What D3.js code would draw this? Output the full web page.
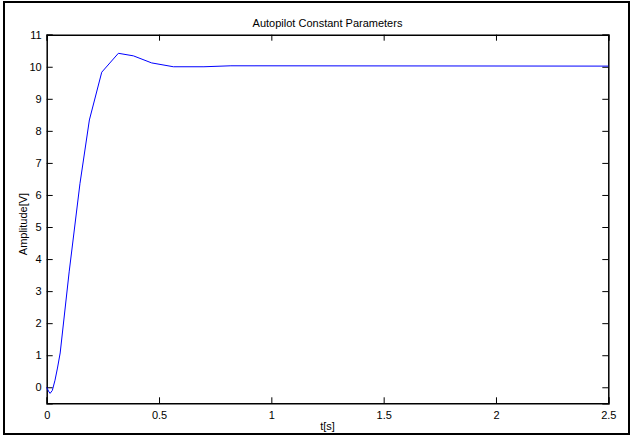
<!DOCTYPE html>
<html>
<head>
<meta charset="utf-8">
<script src="https://cdn.jsdelivr.net/npm/d3@7"></script>
<style>
  body { margin: 0; background: #fff; }
  svg { display: block; font-family: "Liberation Sans", Arial, sans-serif; }
</style>
</head>
<body>
<svg width="634" height="436"></svg>
<script>
// step response
var tVals = [0, 0.008, 0.015, 0.025, 0.037, 0.048, 0.06, 0.10, 0.148, 0.19, 0.245, 0.319, 0.386, 0.467, 0.564, 0.70, 0.82, 2.5];
var yVals = [0, -0.12, -0.19, -0.1, 0.22, 0.6, 1.07, 3.6, 6.35, 8.34, 9.83, 10.42, 10.34, 10.12, 10.0, 10.0, 10.03, 10.02];
var xTicks = [0, 0.5, 1, 1.5, 2, 2.5];
var yTicks = [0, 1, 2, 3, 4, 5, 6, 7, 8, 9, 10, 11];

var svg = d3.select("svg");
var L = 46.7, R = 608.3, T = 34.7, B = 403.3;

var x = d3.scaleLinear().domain([0, 2.5]).range([L, R]);
var y = d3.scaleLinear().domain([-0.5, 11]).range([B, T]);

// outer frame
svg.append("rect")
    .attr("x", 4).attr("y", 2).attr("width", 625).attr("height", 432)
    .attr("fill", "none").attr("stroke", "#000").attr("stroke-width", 2);

// axes, ticks inward like matlab
svg.append("g").attr("transform", "translate(0," + B + ")")
    .call(d3.axisBottom(x).tickValues(xTicks).tickSize(-6).tickPadding(8)
          .tickFormat(function(d){ return d3.format("")(d); }));
svg.append("g").attr("transform", "translate(0," + T + ")")
    .call(d3.axisTop(x).tickValues(xTicks).tickSize(-6).tickFormat(""));
svg.append("g").attr("transform", "translate(" + L + ",0)")
    .call(d3.axisLeft(y).tickValues(yTicks).tickSize(-6).tickPadding(5));
svg.append("g").attr("transform", "translate(" + R + ",0)")
    .call(d3.axisRight(y).tickValues(yTicks).tickSize(-6).tickFormat(""));

svg.selectAll(".domain").attr("stroke", "#000").attr("stroke-width", 1.5);
svg.selectAll(".tick line").attr("stroke", "#000");
svg.selectAll(".tick text").attr("font-size", 11).attr("fill", "#000")
    .attr("font-family", "Liberation Sans, Arial, sans-serif");

// response curve
var pts = tVals.map(function(t, i){ return [t, yVals[i]]; });
svg.append("path")
    .datum(pts)
    .attr("fill", "none")
    .attr("stroke", "#0000ff")
    .attr("stroke-width", 1)
    .attr("d", d3.line().x(function(d){ return x(d[0]); }).y(function(d){ return y(d[1]); }));

// labels
svg.append("text").attr("x", (L + R) / 2).attr("y", 27).attr("text-anchor", "middle")
    .attr("font-size", 11).text("Autopilot Constant Parameters");
svg.append("text").attr("x", (L + R) / 2).attr("y", 430).attr("text-anchor", "middle")
    .attr("font-size", 11).text("t[s]");
svg.append("text").attr("transform", "translate(27,224) rotate(-90)").attr("text-anchor", "middle")
    .attr("font-size", 11).text("Amplitude[V]");
</script>
</body>
</html>
